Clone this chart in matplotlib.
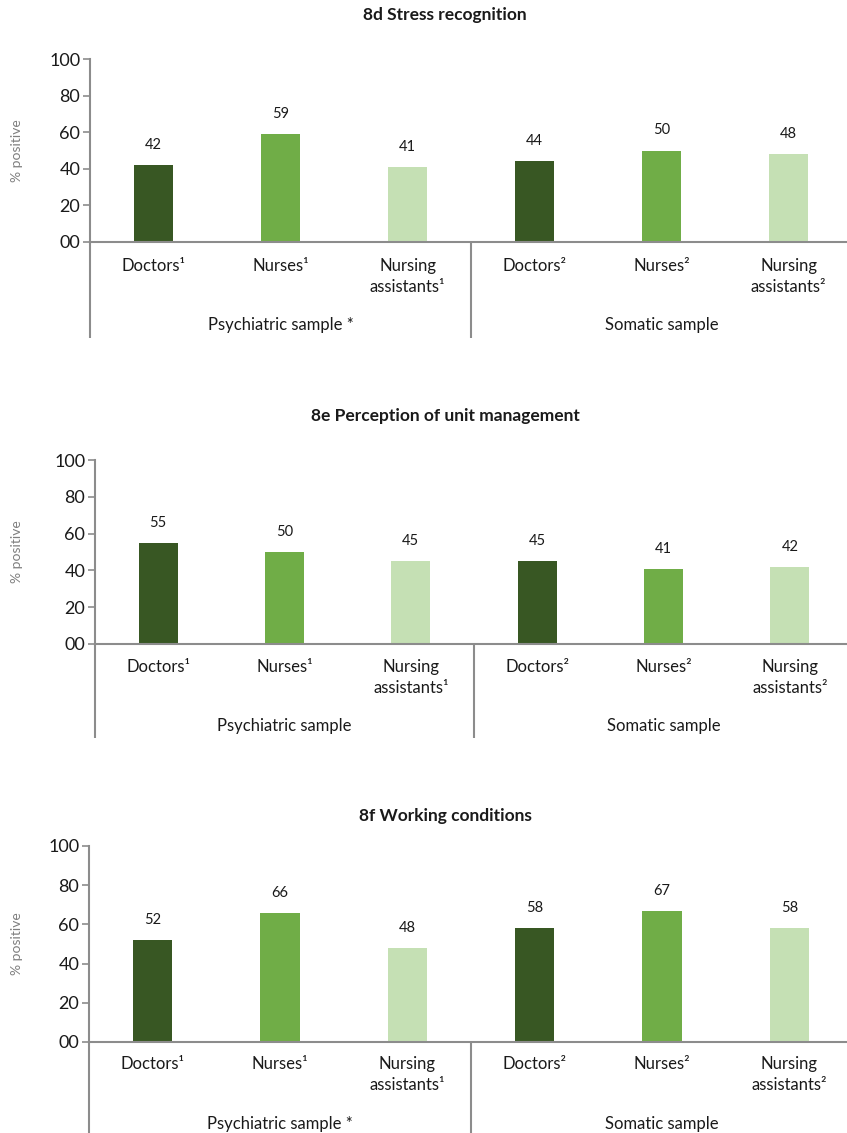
import matplotlib
matplotlib.use("Agg")
import matplotlib.pyplot as plt

plt.rcParams['font.family'] = ['Lato', 'DejaVu Sans']

# ---- data ----
categories = ["Doctors¹", "Nurses¹", "Nursing\nassistants¹",
              "Doctors²", "Nurses²", "Nursing\nassistants²"]
titles = ["8d Stress recognition", "8e Perception of unit management", "8f Working conditions"]
groups_8d = ["Psychiatric sample *", "Somatic sample"]
groups_8e = ["Psychiatric sample", "Somatic sample"]
groups_8f = ["Psychiatric sample *", "Somatic sample"]
stress_recognition = [42, 59, 41, 44, 50, 48]
unit_management = [55, 50, 45, 45, 41, 42]
working_conditions = [52, 66, 48, 58, 67, 58]
y_ticks = [0, 20, 40, 60, 80, 100]
y_tick_labels = ["00", "20", "40", "60", "80", "100"]

colors = ["#385723", "#70AD47", "#C5E0B4"] * 2
axis_grey = "#8C8C8C"
text_color = "#1A1A1A"

W, H = 847, 1133
fig = plt.figure(figsize=(W / 100, H / 100), dpi=100)

# panel geometry in pixels: left, right, top(100), zero line, bottom of group lines, title y
panels = [
    dict(vals=stress_recognition, groups=groups_8d, title=titles[0],
         left=90, right=852, top=59, zero=242, bottom=338, title_y=15,
         cat_y=258, grp_y=325),
    dict(vals=unit_management, groups=groups_8e, title=titles[1],
         left=95, right=853, top=460, zero=644, bottom=738, title_y=416,
         cat_y=659, grp_y=726),
    dict(vals=working_conditions, groups=groups_8f, title=titles[2],
         left=89, right=853, top=846, zero=1042, bottom=1140, title_y=816,
         cat_y=1056, grp_y=1124),
]

for p in panels:
    ax = fig.add_axes([p['left'] / W, 1 - p['zero'] / H,
                       (p['right'] - p['left']) / W, (p['zero'] - p['top']) / H])
    x = list(range(len(categories)))
    ax.bar(x, p['vals'], width=0.31, color=colors, zorder=2)
    ax.set_xlim(-0.5, 5.5)
    ax.set_ylim(0, 100)
    ax.set_yticks(y_ticks)
    ax.set_yticklabels(y_tick_labels, fontsize=13, color=text_color)
    ax.set_xticks([])
    for s in ["top", "right"]:
        ax.spines[s].set_visible(False)
    for s in ["left", "bottom"]:
        ax.spines[s].set_color(axis_grey)
        ax.spines[s].set_linewidth(1.5)
    ax.tick_params(axis='y', length=5, width=1.2, color=axis_grey, pad=2)
    ax.set_ylabel("% positive", fontsize=10, color="#7F7F7F")
    ax.yaxis.set_label_coords((23 - p['left']) / (p['right'] - p['left']), 0.5)

    # value labels
    for xi, v in zip(x, p['vals']):
        ax.annotate(f"{v}", xy=(xi, v), xytext=(0, 20), textcoords='offset pixels',
                    ha='center', va='center', fontsize=10.5, color=text_color)

    # category labels and group labels below the axis
    tr = ax.get_xaxis_transform()
    for xi, c in zip(x, categories):
        ax.annotate(c, xy=(xi, 0), xycoords=tr,
                    xytext=(0, -(p['cat_y'] - p['zero'])), textcoords='offset pixels',
                    ha='center', va='top', fontsize=12, color=text_color,
                    linespacing=1.4, annotation_clip=False)
    for gi, g in enumerate(p['groups']):
        ax.annotate(g, xy=(1 + 3 * gi, 0), xycoords=tr,
                    xytext=(0, -(p['grp_y'] - p['zero'])), textcoords='offset pixels',
                    ha='center', va='center', fontsize=12, color=text_color,
                    annotation_clip=False)

    # group divider lines
    depth = (p['bottom'] - p['zero']) / (p['zero'] - p['top'])
    for xv in [-0.5, 2.5, 5.5]:
        ax.plot([xv, xv], [0, -depth], transform=tr, color=axis_grey,
                linewidth=1.5, clip_on=False, solid_capstyle='butt')

    fig.text(445 / W, 1 - p['title_y'] / H, p['title'],
             ha='center', va='center', fontsize=12.5, fontweight='bold', color=text_color)

fig.savefig("out.png", dpi=100)
